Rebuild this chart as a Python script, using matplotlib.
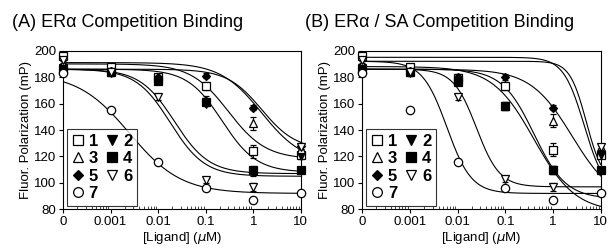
import numpy as np
import matplotlib.pyplot as plt
from matplotlib.lines import Line2D

plt.rcParams['font.family'] = ['Liberation Sans', 'DejaVu Sans']

# ligand concentrations (uM); 0 is drawn at the left edge of the log axis
conc = [0, 0.001, 0.01, 0.1, 1, 10]
zero_pos = 1e-4

labels = ['1', '2', '3', '4', '5', '6', '7']
markers = ['s', 'v', '^', 's', 'D', 'v', 'o']
filled = [False, True, False, True, True, False, False]
msizes = [6, 6, 6, 6, 4.5, 6, 6]

# mean polarization (mP) per compound, panel A
a_vals = [
    [196, 188, 180, 173, 124, 121],
    [187, 183, 177, 160, 108, 120],
    [190, 185, 178, 163, 145, 126],
    [186, 184, 177, 161, 110, 110],
    [185, 185, 180, 181, 157, 128],
    [193, 184, 165, 102, 97, 127],
    [183, 155, 116, 96, 87, 92],
]
# panel B
b_vals = [
    [196, 188, 179, 173, 125, 121],
    [187, 183, 177, 158, 110, 121],
    [190, 185, 178, 158, 147, 127],
    [186, 184, 176, 158, 110, 110],
    [185, 185, 180, 180, 157, 123],
    [193, 184, 165, 103, 97, 127],
    [183, 155, 116, 96, 87, 92],
]
# error bars (mP)
errs = [
    [2, 2, 2, 3, 5, 2],
    [2, 2, 2, 2, 3, 2],
    [2, 2, 2, 3, 5, 2],
    [2, 2, 2, 2, 3, 2],
    [2, 2, 2, 2, 2, 2],
    [2, 2, 2, 2, 3, 2],
    [2, 2, 2, 2, 2, 2],
]

# fitted curves: top, bottom, IC50 (uM), hill slope
a_fits = [
    (190, 118, 0.3, 1.1),
    (186, 107, 0.022, 1.2),
    (191, 115, 1.5, 1.0),
    (186, 108, 0.22, 1.2),
    (186, 125, 1.5, 1.2),
    (186, 105, 0.018, 1.2),
    (183, 92, 0.0025, 0.8),
]
b_fits = [
    (195, 92, 4.5, 2.0),
    (188, 78, 0.4, 1.0),
    (192, 100, 5.0, 2.5),
    (186, 88, 0.4, 1.3),
    (186, 85, 2.5, 1.0),
    (186, 97, 0.025, 1.8),
    (192, 92, 0.006, 1.7),
]


def draw_panel(ax, vals, fits, title, tx):
    xs = [zero_pos if c == 0 else c for c in conc]
    xc = np.logspace(-4, 1, 300)
    for (top, bot, ic50, h) in fits:
        ax.plot(xc, bot + (top - bot) / (1 + (xc / ic50) ** h), color='black', lw=0.8, zorder=2)
    for i, v in enumerate(vals):
        ax.errorbar(xs, v, yerr=errs[i], fmt=markers[i], ms=msizes[i], mec='black',
                    mfc='black' if filled[i] else 'white', mew=0.9, ecolor='black',
                    elinewidth=0.8, capsize=2.5, clip_on=False, zorder=3)
    ax.set_xscale('log')
    ax.set_xlim(zero_pos, 10)
    ax.set_ylim(80, 200)
    ax.set_xticks([zero_pos, 0.001, 0.01, 0.1, 1, 10])
    ax.set_xticklabels(['0', '0.001', '0.01', '0.1', '1', '10'])
    ax.set_yticks(range(80, 201, 20))
    ax.tick_params(labelsize=9.5, length=3, width=0.8, pad=2)
    ax.tick_params(which='minor', length=2, width=0.5, direction='in')
    ax.set_xlabel(r'[Ligand] ($\mu$M)', fontsize=9.5, labelpad=1)
    ax.set_ylabel('Fluor. Polarization (mP)', fontsize=9.5, labelpad=1)
    for s in ax.spines.values():
        s.set_linewidth(0.8)
    handles = []
    for i in range(7):
        handles.append(Line2D([], [], ls='none', marker=markers[i], ms=msizes[i] + 1, mec='black',
                              mfc='black' if filled[i] else 'white', mew=0.9, label=labels[i]))
    order = [0, 2, 4, 6, 1, 3, 5]
    leg = ax.legend([handles[k] for k in order], [labels[k] for k in order], ncol=2,
                    loc='lower left', bbox_to_anchor=(0.01, 0.01), frameon=True, fancybox=False,
                    edgecolor='black', handlelength=0.7, handletextpad=0.3, columnspacing=0.5,
                    labelspacing=0.15, borderpad=0.3, borderaxespad=0.1,
                    prop={'weight': 'bold', 'size': 12})
    leg.get_frame().set_linewidth(0.8)
    fig.text(tx, 0.91, title, fontsize=13, va='center', ha='left')


fig = plt.figure(figsize=(6.13, 2.49), dpi=100)
ax1 = fig.add_axes([0.1028, 0.1594, 0.388, 0.637])
ax2 = fig.add_axes([0.5906, 0.1594, 0.3894, 0.637])
draw_panel(ax1, a_vals, a_fits, '(A) ERα Competition Binding', 0.02)
draw_panel(ax2, b_vals, b_fits, '(B) ERα / SA Competition Binding', 0.497)
fig.savefig('out.png', dpi=100)
